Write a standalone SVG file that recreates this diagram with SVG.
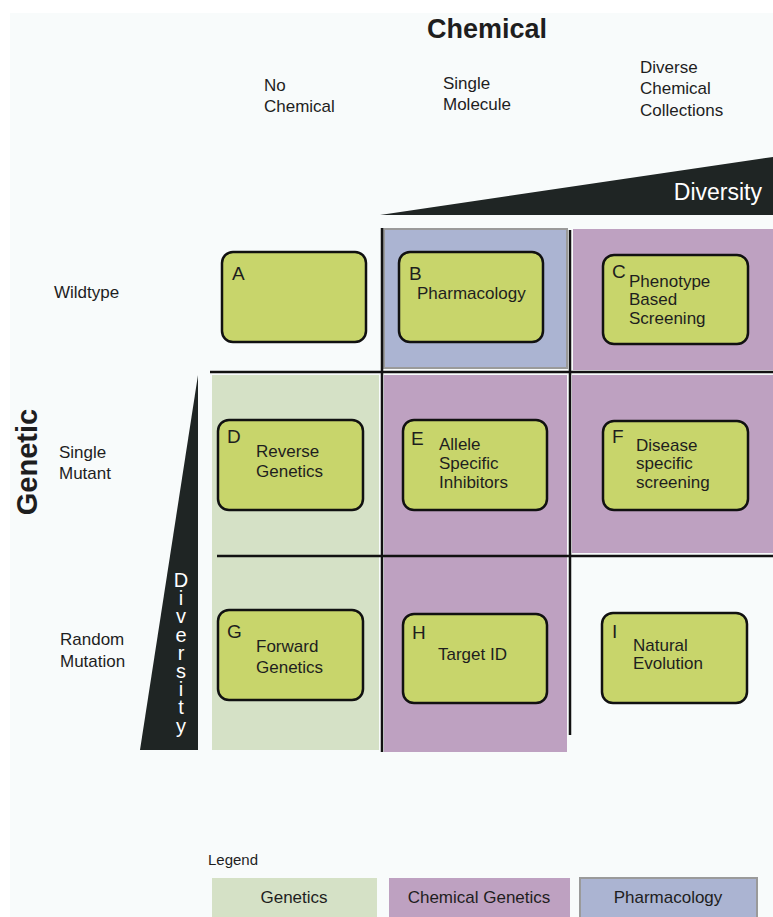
<svg xmlns="http://www.w3.org/2000/svg" width="773" height="917" viewBox="0 0 773 917">
<style>
text{font-family:"Liberation Sans",Arial,sans-serif;fill:#1e1e1e}
.lbl{font-size:17px}
.let{font-size:19px}
.box{fill:#c8d56b;stroke:#111;stroke-width:2.5}
.line{stroke:#111;stroke-width:2.5;fill:none}
.gen{fill:#d5e1c6}
.chem{fill:#bea1c1}
.pharm{fill:#abb4d2;stroke:#9a9a9a;stroke-width:2}
</style>
<rect x="0" y="0" width="773" height="917" fill="#ffffff"/>
<rect x="10" y="13" width="763" height="904" fill="#f8fbfb"/>

<g id="regions">
  <rect class="pharm" x="384" y="229" width="183" height="139"/>
  <rect class="chem" x="573" y="229" width="200" height="141"/>
  <rect class="chem" x="384" y="375" width="183" height="377"/>
  <rect class="chem" x="572" y="375" width="201" height="178"/>
  <rect class="gen" x="212" y="375" width="167" height="375"/>
</g>

<g id="axes">
  <polygon points="380,215 773,157 773,215" fill="#1f2524"/>
  <text x="762" y="200" text-anchor="end" style="font-size:23px;fill:#fff">Diversity</text>
  <polygon points="198,375 198,750 140,750" fill="#1f2524"/>
  <text x="181" y="569" style="font-size:20px;fill:#fff;writing-mode:vertical-rl;text-orientation:upright;letter-spacing:-3.8px">Diversity</text>
  <text x="487" y="38" text-anchor="middle" style="font-size:27px;font-weight:bold">Chemical</text>
  <text transform="translate(37,462) rotate(-90)" text-anchor="middle" style="font-size:29px;font-weight:bold">Genetic</text>
  <text class="lbl" x="264" y="91">No</text>
  <text class="lbl" x="264" y="112">Chemical</text>
  <text class="lbl" x="443" y="89">Single</text>
  <text class="lbl" x="443" y="110">Molecule</text>
  <text class="lbl" x="640" y="73">Diverse</text>
  <text class="lbl" x="640" y="94">Chemical</text>
  <text class="lbl" x="640" y="116">Collections</text>
  <text class="lbl" x="54" y="298">Wildtype</text>
  <text class="lbl" x="59" y="458">Single</text>
  <text class="lbl" x="59" y="479">Mutant</text>
  <text class="lbl" x="60" y="645">Random</text>
  <text class="lbl" x="60" y="667">Mutation</text>
</g>

<g id="connectors">
  <line class="line" x1="382" y1="228" x2="382" y2="752"/>
  <line class="line" x1="570" y1="230" x2="570" y2="735"/>
  <line class="line" x1="210" y1="372" x2="773" y2="372"/>
  <line class="line" x1="217" y1="556" x2="773" y2="556"/>
</g>

<g id="A">
  <rect class="box" x="222" y="252" width="144" height="90" rx="11"/>
  <text class="let" x="232" y="280">A</text>
</g>
<g id="B">
  <rect class="box" x="399" y="252" width="144" height="90" rx="11"/>
  <text class="let" x="409" y="280">B</text>
  <text class="lbl" x="417" y="299">Pharmacology</text>
</g>
<g id="C">
  <rect class="box" x="603" y="255" width="145" height="89" rx="11"/>
  <text class="let" x="612" y="278">C</text>
  <text class="lbl" x="629" y="287">Phenotype</text>
  <text class="lbl" x="629" y="305">Based</text>
  <text class="lbl" x="629" y="324">Screening</text>
</g>
<g id="D">
  <rect class="box" x="218" y="420" width="145" height="90" rx="11"/>
  <text class="let" x="227" y="443">D</text>
  <text class="lbl" x="256" y="457">Reverse</text>
  <text class="lbl" x="256" y="477">Genetics</text>
</g>
<g id="E">
  <rect class="box" x="403" y="420" width="144" height="90" rx="11"/>
  <text class="let" x="411" y="445">E</text>
  <text class="lbl" x="439" y="450">Allele</text>
  <text class="lbl" x="439" y="469">Specific</text>
  <text class="lbl" x="439" y="488">Inhibitors</text>
</g>
<g id="F">
  <rect class="box" x="603" y="421" width="145" height="89" rx="11"/>
  <text class="let" x="612" y="443">F</text>
  <text class="lbl" x="636" y="451">Disease</text>
  <text class="lbl" x="636" y="469">specific</text>
  <text class="lbl" x="636" y="488">screening</text>
</g>
<g id="G">
  <rect class="box" x="218" y="610" width="145" height="90" rx="11"/>
  <text class="let" x="227" y="638">G</text>
  <text class="lbl" x="256" y="652">Forward</text>
  <text class="lbl" x="256" y="673">Genetics</text>
</g>
<g id="H">
  <rect class="box" x="403" y="614" width="144" height="89" rx="11"/>
  <text class="let" x="412" y="639">H</text>
  <text class="lbl" x="438" y="660">Target ID</text>
</g>
<g id="I">
  <rect class="box" x="602" y="613" width="145" height="90" rx="11"/>
  <text class="let" x="612" y="638">I</text>
  <text class="lbl" x="633" y="651">Natural</text>
  <text class="lbl" x="633" y="669">Evolution</text>
</g>

<g id="legend">
  <text x="208" y="865" style="font-size:15px">Legend</text>
  <rect class="gen" x="212" y="878" width="165" height="39"/>
  <text class="lbl" x="294" y="903" text-anchor="middle">Genetics</text>
  <rect class="chem" x="389" y="878" width="181" height="39"/>
  <text class="lbl" x="479" y="903" text-anchor="middle">Chemical Genetics</text>
  <rect class="pharm" x="580" y="878" width="177" height="40"/>
  <text class="lbl" x="668" y="903" text-anchor="middle">Pharmacology</text>
</g>
</svg>
